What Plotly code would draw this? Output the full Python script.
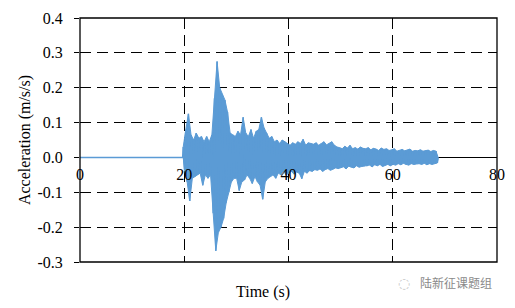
import plotly.graph_objects as go

# ---- data ----
t_start = 19.8      # first sample of the strong-motion record (s)
dt_half = 0.25      # spacing between an upper and a lower peak (s)
t_end = 68.7        # end of the record (s)

upper_peaks = [
    0.03, 0.08, 0.125, 0.065, 0.05, 0.07, 0.055, 0.06, 0.045, 0.06,
    0.045, 0.065, 0.17, 0.275, 0.2, 0.18, 0.165, 0.13, 0.07, 0.065,
    0.06, 0.075, 0.065, 0.115, 0.07, 0.06, 0.08, 0.055, 0.075, 0.08,
    0.115, 0.085, 0.07, 0.055, 0.06, 0.045, 0.05, 0.04, 0.05, 0.045,
    0.04, 0.035, 0.042, 0.038, 0.045, 0.04, 0.052, 0.035, 0.042, 0.04,
    0.038, 0.042, 0.035, 0.04, 0.045, 0.036, 0.04, 0.045, 0.035, 0.03,
    0.028, 0.025, 0.032, 0.027, 0.035, 0.025, 0.028, 0.024, 0.03, 0.026,
    0.025, 0.028, 0.022, 0.026, 0.024, 0.02, 0.027, 0.023, 0.025, 0.02,
    0.022, 0.025, 0.018, 0.02, 0.023, 0.019, 0.021, 0.024, 0.018, 0.02,
    0.019, 0.022, 0.018, 0.02, 0.021, 0.017, 0.02, 0.018,
]
lower_peaks = [
    -0.035, -0.07, -0.125, -0.06, -0.055, -0.05, -0.045, -0.08, -0.05, -0.06,
    -0.05, -0.16, -0.268, -0.215, -0.2, -0.175, -0.13, -0.1, -0.07, -0.06,
    -0.06, -0.095, -0.07, -0.065, -0.05, -0.06, -0.075, -0.055, -0.07, -0.08,
    -0.12, -0.07, -0.06, -0.055, -0.05, -0.06, -0.045, -0.05, -0.04, -0.05,
    -0.045, -0.04, -0.048, -0.042, -0.045, -0.061, -0.04, -0.045, -0.038, -0.04,
    -0.035, -0.037, -0.033, -0.04, -0.035, -0.032, -0.037, -0.034, -0.03, -0.032,
    -0.03, -0.027, -0.033, -0.025, -0.028, -0.03, -0.024, -0.028, -0.026, -0.025,
    -0.025, -0.022, -0.027, -0.021, -0.024, -0.02, -0.026, -0.022, -0.02, -0.024,
    -0.02, -0.022, -0.018, -0.021, -0.017, -0.02, -0.022, -0.018, -0.02, -0.019,
    -0.018, -0.02, -0.017, -0.021, -0.018, -0.02, -0.017, -0.016,
]

x_tickvals = [0, 20, 40, 60, 80]
x_ticktext = ["0", "20", "40", "60", "80"]
y_tickvals = [-0.3, -0.2, -0.1, 0.0, 0.1, 0.2, 0.3, 0.4]
y_ticktext = ["-0.3", "-0.2", "-0.1", "0.0", "0.1", "0.2", "0.3", "0.4"]

# ---- assemble the record ----
t_up = [t_start + 2 * dt_half * i for i in range(len(upper_peaks))]
t_lo = [t + dt_half for t in t_up]

time = [0.0, t_start - 0.1]
accel = [0.0, 0.0]
for tu, tl, u, l in zip(t_up, t_lo, upper_peaks, lower_peaks):
    time += [tu, tl]
    accel += [u, l]
time.append(t_end)
accel.append(0.0)

serif = "Liberation Serif"
blue = "#5B9BD5"

fig = go.Figure()
# band body between the upper and lower peaks
fig.add_trace(go.Scatter(
    x=[t_start] + t_up + [t_end], y=[0.0] + upper_peaks + [0.0], mode="lines",
    line=dict(color=blue, width=1), hoverinfo="skip", showlegend=False,
))
fig.add_trace(go.Scatter(
    x=[t_start] + t_lo + [t_end], y=[0.0] + lower_peaks + [0.0], mode="lines",
    line=dict(color=blue, width=1), fill="tonexty", fillcolor=blue,
    hoverinfo="skip", showlegend=False,
))
# the record itself
fig.add_trace(go.Scatter(
    x=time, y=accel, mode="lines",
    line=dict(color=blue, width=1.5),
    hoverinfo="skip", showlegend=False,
))

fig.update_layout(
    width=515, height=308,
    margin=dict(l=80, r=10, t=14, b=46),
    paper_bgcolor="white", plot_bgcolor="white",
    font=dict(family=serif, size=16, color="black"),
    xaxis=dict(
        range=[0, 80], tickvals=x_tickvals, ticktext=x_ticktext,
        anchor="free", position=0.3 / 0.7, side="bottom",
        showline=False, ticks="", ticklabelstandoff=6,
        showgrid=True, gridcolor="black", gridwidth=1.4, griddash="11px,6px",
        zeroline=False, tickfont=dict(family=serif, size=16, color="black"),
    ),
    yaxis=dict(
        range=[-0.3, 0.4], tickvals=y_tickvals, ticktext=y_ticktext,
        ticks="outside", ticklen=5, tickcolor="black", tickwidth=1.2,
        ticklabelstandoff=8,
        showgrid=True, gridcolor="black", gridwidth=1.4, griddash="11px,6px",
        zeroline=True, zerolinecolor="black", zerolinewidth=1.3,
        showline=False,
        title=dict(text="Acceleration (m/s/s)", standoff=2,
                   font=dict(family=serif, size=16, color="black")),
        tickfont=dict(family=serif, size=16, color="black"),
    ),
    shapes=[dict(type="rect", xref="paper", yref="paper", x0=0, x1=1, y0=0, y1=1,
                 line=dict(color="black", width=1.3), layer="above")],
    annotations=[
        dict(text="Time (s)", xref="paper", yref="paper", x=0.44, y=-0.121,
             xanchor="center", yanchor="middle", showarrow=False,
             font=dict(family=serif, size=16, color="black")),
        dict(text="陆新征课题组", xref="paper", yref="paper", x=0.901, y=-0.085,
             xanchor="center", yanchor="middle", showarrow=False,
             font=dict(family="Noto Sans CJK SC", size=12, color="#8a8a8a")),
        dict(text="◌", xref="paper", yref="paper", x=0.776, y=-0.085,
             xanchor="center", yanchor="middle", showarrow=False,
             font=dict(family="DejaVu Sans", size=14, color="#c8c8c8")),
    ],
)

fig.write_html("out.html")
